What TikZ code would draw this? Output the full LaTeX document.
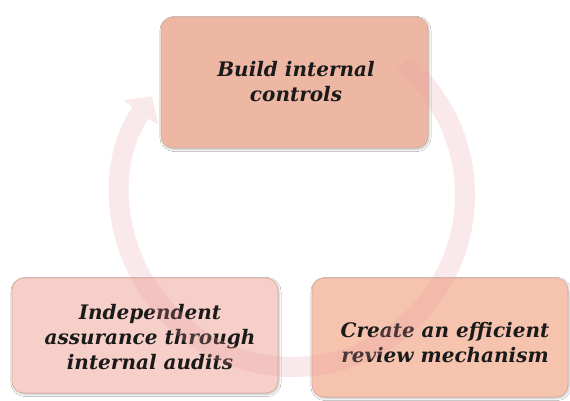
\documentclass[tikz,border=0pt]{standalone}
\usepackage{fontspec}
\setmainfont{DejaVu Serif}
\usetikzlibrary{arrows.meta,calc,shadows.blur}
\definecolor{boxtop}{HTML}{EDB7A3}
\definecolor{boxbl}{HTML}{F6CFC8}
\definecolor{boxbr}{HTML}{F5C3AE}
\definecolor{boxedge}{HTML}{D9A898}
\definecolor{arcpink}{HTML}{EC9CA4}
\definecolor{txt}{HTML}{1A1A1A}
\tikzset{
  stepbox/.style={rounded corners=12pt, draw=boxedge, line width=0.6pt,
    blur shadow={shadow xshift=1pt, shadow yshift=-1.5pt, shadow blur steps=5, shadow opacity=25},
    inner sep=0pt},
  steptext/.style={font=\fontsize{20}{25}\selectfont\bfseries\itshape, text=txt, align=center, inner sep=0pt},
  cyclearc/.style={line width=20pt, draw=arcpink,
    -{Triangle[length=20pt,width=42pt]}}
}
\begin{document}
\begin{tikzpicture}[x=1pt,y=1pt]
\useasboundingbox[fill=white] (0,0) rectangle (570,401);
\node[stepbox, fill=boxtop, minimum width=267pt, minimum height=131pt] (top) at (294.5,318.5) {};
\node[stepbox, fill=boxbl, minimum width=266pt, minimum height=115pt] (bl) at (145,65.5) {};
\node[stepbox, fill=boxbr, minimum width=256pt, minimum height=119pt] (br) at (440,63.5) {};
\node[steptext] (toptxt) at (296,319) {Build internal\\controls};
\node[steptext] (bltxt) at (150,64) {Independent\\assurance through\\internal audits};
\node[steptext] (brtxt) at (445,58) {Create an efficient\\review mechanism};
\coordinate (c) at (293,206);
\begin{scope}[transparency group, opacity=0.22]
\draw[cyclearc] ($(c)+(50:172pt)$) arc[start angle=50, end angle=-215, radius=172pt];
\end{scope}
\end{tikzpicture}
\end{document}
